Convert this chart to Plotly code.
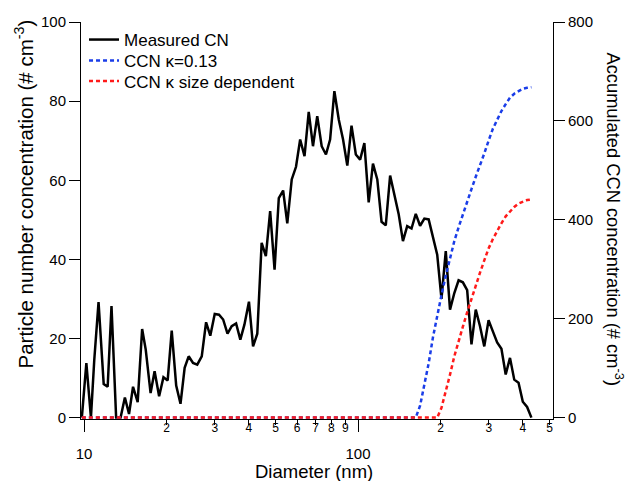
import plotly.graph_objects as go

# SMPS bin mid-point diameters (nm)
diameter = [9.82, 10.2, 10.6, 10.9, 11.3, 11.8, 12.2, 12.6, 13.1, 13.6, 14.1, 14.6, 15.1, 15.7, 16.3, 16.8,
            17.5, 18.1, 18.8, 19.5, 20.2, 20.9, 21.7, 22.5, 23.3, 24.1, 25.0, 25.9, 26.9, 27.9, 28.9, 30.0,
            31.1, 32.2, 33.4, 34.6, 35.9, 37.2, 38.5, 40.0, 41.4, 42.9, 44.5, 46.1, 47.8, 49.6, 51.4, 53.3,
            55.2, 57.3, 59.4, 61.5, 63.8, 66.1, 68.5, 71.0, 73.7, 76.4, 79.1, 82.0, 85.1, 88.2, 91.4, 94.7,
            98.2, 101.8, 105.5, 109.4, 113.4, 117.6, 121.9, 126.3, 131.0, 135.8, 140.7, 145.9, 151.2, 156.8,
            162.5, 168.5, 174.7, 181.1, 187.7, 194.6, 201.7, 209.1, 216.7, 224.7, 232.9, 241.4, 250.3, 259.5,
            269.0, 278.8, 289.0, 299.6, 310.6, 322.0, 333.8, 346.0, 358.7, 371.8, 385.4, 399.5, 414.2, 429.4]

measured_cn = [0, 13.8, 0, 14.5, 29.2, 8.5, 7.8, 28.2, 0, 0, 5.1, 0.9, 7.8, 3.9, 22.4, 17.2,
               6.2, 11.7, 5.4, 10.2, 9.4, 22.0, 8.1, 3.5, 12.6, 15.5, 13.8, 13.4, 15.5, 24.1, 20.7, 26.2,
               26.0, 24.8, 21.2, 23.1, 23.8, 19.7, 23.5, 29.3, 18.0, 21.2, 44.2, 40.8, 52.2, 37.4, 55.5, 57.4,
               49.1, 60.2, 63.4, 70.3, 66.1, 77.3, 68.6, 76.2, 68.6, 66.5, 70.3, 82.5, 75.3, 70.3, 63.7, 73.8,
               66.5, 65.2, 69.4, 54.4, 64.2, 60.2, 49.5, 48.6, 61.2, 56.6, 51.5, 44.6, 48.4, 47.8,
               51.5, 48.5, 50.3, 50.1, 45.8, 41.2, 30.0, 42.1, 27.3, 31.5, 34.7, 34.2, 32.2, 18.5,
               27.3, 23.1, 18.0, 24.6, 21.8, 19.0, 17.4, 10.9, 15.1, 9.6, 8.8, 4.0, 2.7, 0]

ccn_kappa_013 = [0] * 79 + [24, 64, 110, 162, 207, 248, 287, 324, 357, 385, 412, 439, 462, 487, 509, 534,
                            560, 584, 602, 620, 634, 647, 655, 660, 665, 667, 668]

ccn_kappa_size = [0] * 84 + [20, 51, 87, 124, 156, 184, 213, 241, 267, 293, 318, 342, 361, 378, 393, 407,
                             417, 426, 433, 437, 440, 441]

major_ticks = [10, 100]
major_labels = ["10", "100"]
minor_ticks = [20, 30, 40, 50, 60, 70, 80, 90, 200, 300, 400, 500]
minor_labels = ["2", "3", "4", "5", "6", "7", "8", "9", "2", "3", "4", "5"]
left_ticks = [0, 20, 40, 60, 80, 100]
right_ticks = [0, 200, 400, 600, 800]

FONT = "Liberation Sans, Arial, sans-serif"

fig = go.Figure()
fig.add_trace(go.Scatter(x=diameter, y=measured_cn, mode="lines", name="Measured CN", legend="legend",
                         line=dict(color="black", width=2.5), xaxis="x", yaxis="y"))
fig.add_trace(go.Scatter(x=diameter, y=ccn_kappa_013, mode="lines", name="CCN κ=0.13", legend="legend2",
                         line=dict(color="#1a3de8", width=2.5, dash="4px,3px"), xaxis="x", yaxis="y2"))
fig.add_trace(go.Scatter(x=diameter, y=ccn_kappa_size, mode="lines", name="CCN κ size dependent",
                         legend="legend3",
                         line=dict(color="#ff1a1a", width=2.5, dash="4px,3px"), xaxis="x", yaxis="y2"))
# invisible carrier so the minor-label axis is drawn
fig.add_trace(go.Scatter(x=diameter, y=measured_cn, mode="lines", showlegend=False, hoverinfo="skip",
                         opacity=0, line=dict(width=0), xaxis="x2", yaxis="y"))

xr = [0.98905, 2.7117]
leg = dict(x=0.0064, xanchor="left", yanchor="top", bgcolor="rgba(0,0,0,0)",
           font=dict(size=17, family=FONT, color="black"))
fig.update_layout(
    width=631, height=481,
    margin=dict(l=81, r=78, t=22, b=62),
    paper_bgcolor="white", plot_bgcolor="white",
    font=dict(family=FONT, color="black"),
    showlegend=True,
    legend=dict(leg, y=1.0),
    legend2=dict(leg, y=0.947),
    legend3=dict(leg, y=0.8955),
    xaxis=dict(type="log", range=xr, tickmode="array", tickvals=major_ticks, ticktext=major_labels,
               ticks="outside", ticklen=12, tickwidth=1, tickcolor="black",
               showline=True, linecolor="black", linewidth=1, showgrid=False, zeroline=False,
               tickfont=dict(size=15), ticklabelstandoff=9, anchor="y"),
    xaxis2=dict(type="log", range=xr, tickmode="array", tickvals=minor_ticks, ticktext=minor_labels,
                ticks="outside", ticklen=5, tickwidth=1, tickcolor="black",
                showline=False, showgrid=False, zeroline=False,
                tickfont=dict(size=12), ticklabelstandoff=-7,
                overlaying="x", side="bottom", anchor="y"),
    yaxis=dict(range=[-0.35, 100], tickmode="array", tickvals=left_ticks,
               ticks="outside", ticklen=11, tickwidth=1, tickcolor="black",
               showline=True, linecolor="black", linewidth=1, showgrid=False, zeroline=False,
               tickfont=dict(size=15), layer="below traces"),
    yaxis2=dict(range=[-2.8, 800], tickmode="array", tickvals=right_ticks, overlaying="y", side="right",
                ticks="outside", ticklen=11, tickwidth=1, tickcolor="black",
                showline=True, linecolor="black", linewidth=1, showgrid=False, zeroline=False,
                tickfont=dict(size=15), anchor="x"),
    annotations=[
        dict(text="Diameter (nm)", xref="paper", yref="paper", x=0.4936, y=-0.131,
             xanchor="center", yanchor="middle", showarrow=False, font=dict(size=18.5)),
        dict(text="Particle number concentration (# cm<sup>-3</sup>)", xref="paper", yref="paper",
             x=-0.1208, y=0.568, xanchor="center", yanchor="middle", textangle=-90,
             showarrow=False, font=dict(size=20.5)),
        dict(text="Accumulated CCN concentration (# cm<sup>-3</sup>)", xref="paper", yref="paper",
             x=1.1314, y=0.505, xanchor="center", yanchor="middle", textangle=90,
             showarrow=False, font=dict(size=18.3)),
    ],
)

fig.write_html("out.html")
